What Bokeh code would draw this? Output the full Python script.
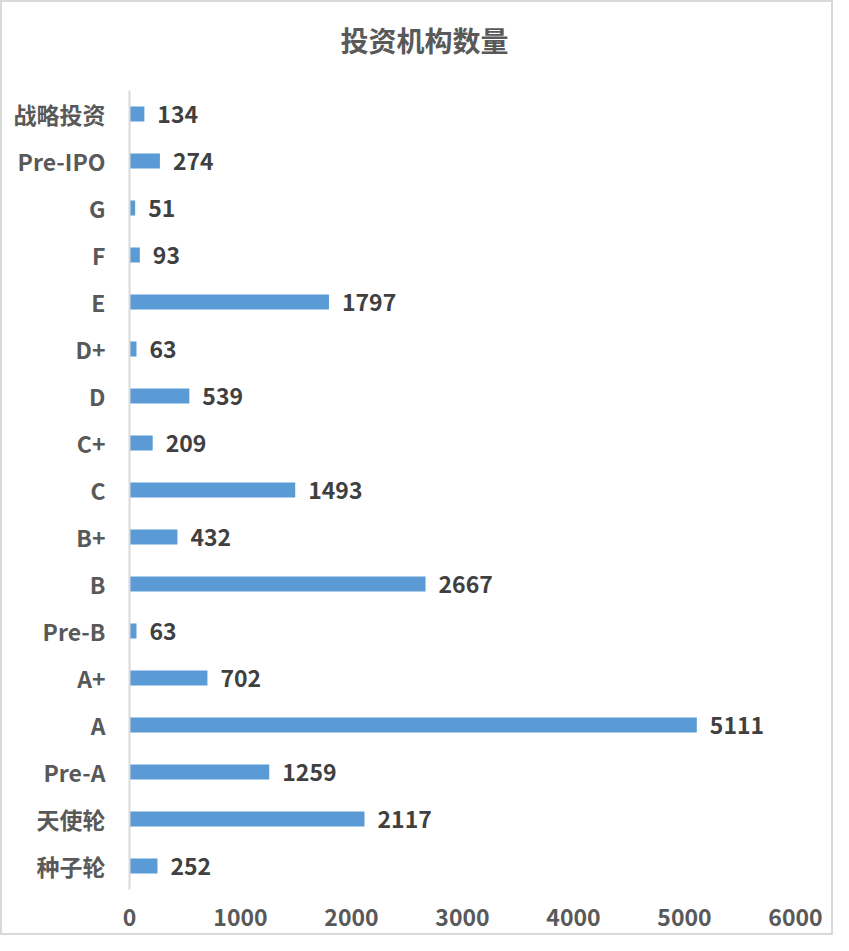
from bokeh.plotting import figure
from bokeh.models import ColumnDataSource, FixedTicker, Range1d, InlineStyleSheet, Label
from bokeh.core.properties import value
from bokeh.embed import file_html
from bokeh.resources import INLINE

# data (bottom to top)
categories = ["种子轮", "天使轮", "Pre-A", "A", "A+", "Pre-B", "B", "B+", "C", "C+",
              "D", "D+", "E", "F", "G", "Pre-IPO", "战略投资"]
counts = [252, 2117, 1259, 5111, 702, 63, 2667, 432, 1493, 209,
          539, 63, 1797, 93, 51, 274, 134]
x_ticks = [0, 1000, 2000, 3000, 4000, 5000, 6000]
title_text = "投资机构数量"

FONT = "Noto Sans CJK SC"
n = len(categories)
pos = list(range(n))

# layout (pixels): category band 799px tall, 88px of headroom above it for the title
BAND_PX = 799
TOP_PX = 88
y_top = n - 0.5 + TOP_PX * n / BAND_PX

src = ColumnDataSource(dict(pos=pos, val=counts, lab=[str(v) for v in counts]))

p = figure(width=833, height=935, output_backend="svg", toolbar_location=None, title=None,
           y_range=Range1d(-0.5, y_top), x_range=Range1d(0, 6000),
           min_border_left=127, min_border_right=40, min_border_top=0, min_border_bottom=48)

p.hbar(y="pos", right="val", left=0, height=0.32, source=src,
       fill_color="#5B9BD5", line_color=None)

p.text(x="val", y="pos", text="lab", source=src, x_offset=13,
       text_baseline="middle", text_align="left",
       text_font=value(FONT), text_font_size="23px", text_font_style="bold",
       text_color="#404040")

# chart title, placed in screen units inside the frame's headroom
title = Label(x=295, y=BAND_PX + TOP_PX - 37, x_units="screen", y_units="screen", text=title_text,
              text_align="center", text_baseline="middle",
              text_font=FONT, text_font_size="28px", text_font_style="bold",
              text_color="#595959")
p.add_layout(title)

p.xgrid.visible = False
p.ygrid.visible = False
p.outline_line_color = None

xa = p.xaxis[0]
xa.ticker = FixedTicker(ticks=x_ticks)
xa.axis_line_color = None
xa.major_tick_line_color = None
xa.minor_tick_line_color = None
xa.major_label_standoff = 13
xa.major_label_text_font = FONT
xa.major_label_text_font_size = "23px"
xa.major_label_text_font_style = "bold"
xa.major_label_text_color = "#595959"

ya = p.yaxis[0]
ya.ticker = FixedTicker(ticks=pos)
ya.major_label_overrides = {i: c for i, c in zip(pos, categories)}
ya.bounds = (-0.5, n - 0.5)
ya.axis_line_color = "#D9D9D9"
ya.axis_line_width = 2
ya.major_tick_line_color = None
ya.minor_tick_line_color = None
ya.major_label_standoff = 18
ya.major_label_text_font = FONT
ya.major_label_text_font_size = "23px"
ya.major_label_text_font_style = "bold"
ya.major_label_text_color = "#595959"

p.stylesheets = [InlineStyleSheet(css=":host { border: 2px solid #D9D9D9; box-sizing: border-box; }")]

open("out.html", "w").write(file_html(p, INLINE))
